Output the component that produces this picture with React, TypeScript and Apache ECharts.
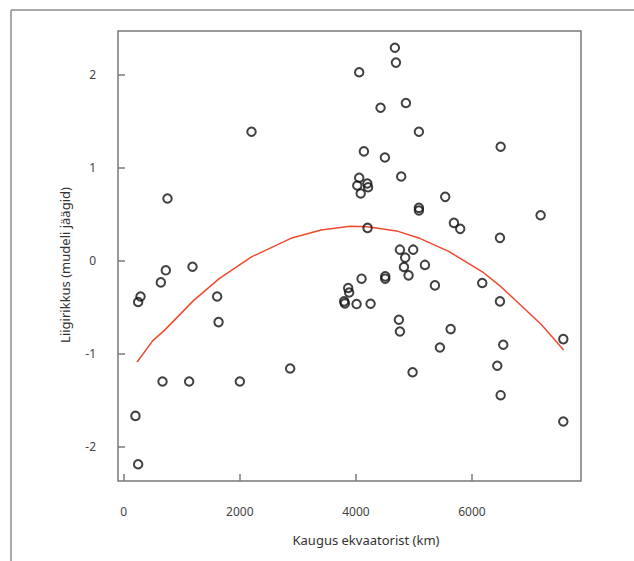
import React, { useEffect, useRef } from "react";
import * as echarts from "echarts";

// Scatter points: distance from equator (km) and species richness residuals
const pointX: number[] = [
  753, 724, 638, 1184, 288, 247, 1609, 1633, 667, 1126, 2000, 2867, 201, 247, 2201,
  4672, 4690, 4057, 4862, 4425, 5086, 4138, 4500, 4781, 4057, 4197, 4024, 4083, 4210,
  5540, 5086, 5086, 5690, 5798, 4201, 4759, 4988, 4850, 4828, 5190, 4908, 4506, 4506,
  4098, 5362, 3867, 3884, 3798, 3810, 4012, 4253, 4741, 4759, 5633, 5448, 4977,
  6495, 7184, 6483, 6178, 6483, 6540, 6437, 6495, 7575, 7575,
];
const pointY: number[] = [
  0.668, -0.104, -0.234, -0.065, -0.385, -0.445, -0.385, -0.661, -1.3, -1.3, -1.3, -1.16, -1.67, -2.19, 1.387,
  2.29, 2.13, 2.026, 1.695, 1.645, 1.387, 1.175, 1.11, 0.905, 0.891, 0.83, 0.808, 0.722, 0.79,
  0.686, 0.568, 0.539, 0.406, 0.342, 0.352, 0.118, 0.118, 0.032, -0.068, -0.046, -0.158, -0.169, -0.194,
  -0.194, -0.266, -0.294, -0.342, -0.438, -0.46, -0.467, -0.463, -0.636, -0.762, -0.736, -0.934, -1.2,
  1.225, 0.488, 0.245, -0.24, -0.438, -0.905, -1.13, -1.447, -0.844, -1.73,
];

// Fitted curve vertices
const curveX: number[] = [230, 500, 700, 1200, 1650, 2200, 2880, 3400, 3900, 4200, 4700, 5100, 5600, 6200, 6500, 7200, 7580];
const curveY: number[] = [-1.09, -0.86, -0.75, -0.43, -0.19, 0.04, 0.24, 0.33, 0.37, 0.365, 0.32, 0.24, 0.1, -0.13, -0.28, -0.69, -0.96];

const xTicks: number[] = [0, 2000, 4000, 6000];
const yTicks: number[] = [-2, -1, 0, 1, 2];

const xTitle = "Kaugus ekvaatorist (km)";
const yTitle = "Liigirikkus (mudeli jäägid)";

export default function App() {
  const ref = useRef<HTMLDivElement>(null);
  useEffect(() => {
    if (!ref.current) return;
    const chart = echarts.init(ref.current, null, { renderer: "svg" });
    const font = "'Noto Sans', 'Open Sans', sans-serif";
    const frameColor = "#7a7a7a";
    chart.setOption({
      animation: false,
      backgroundColor: "#ffffff",
      grid: {
        left: 118,
        top: 31,
        right: 53,
        bottom: 80,
        show: true,
        borderColor: frameColor,
        borderWidth: 1.5,
        backgroundColor: "#ffffff",
      },
      xAxis: {
        type: "value",
        min: -100,
        max: 7880,
        axisLine: { show: false, onZero: false },
        splitLine: { show: false },
        axisTick: {
          show: true,
          inside: true,
          length: 7,
          customValues: xTicks,
          lineStyle: { color: frameColor, width: 1.5 },
        },
        axisLabel: {
          customValues: xTicks,
          margin: 24,
          color: "#444",
          fontFamily: font,
          fontSize: 12,
          formatter: (v: number) => String(v),
        },
      },
      yAxis: {
        type: "value",
        min: -2.37,
        max: 2.47,
        axisLine: { show: false, onZero: false },
        splitLine: { show: false },
        axisTick: {
          show: true,
          inside: true,
          length: 7,
          customValues: yTicks,
          lineStyle: { color: frameColor, width: 1.5 },
        },
        axisLabel: {
          customValues: yTicks,
          margin: 22,
          color: "#444",
          fontFamily: font,
          fontSize: 12,
          formatter: (v: number) => String(v),
        },
      },
      graphic: [
        {
          type: "line",
          shape: { x1: 11, y1: 10, x2: 634, y2: 10 },
          style: { stroke: "#8c8c8c", lineWidth: 1.5 },
        },
        {
          type: "line",
          shape: { x1: 11, y1: 10, x2: 11, y2: 561 },
          style: { stroke: "#8c8c8c", lineWidth: 1.5 },
        },
        {
          type: "text",
          x: 366,
          y: 540,
          style: {
            text: xTitle,
            fontFamily: font,
            fontSize: 13,
            fill: "#333",
            textAlign: "center",
            textVerticalAlign: "middle",
          },
        },
        {
          type: "text",
          x: 65,
          y: 265,
          rotation: Math.PI / 2,
          style: {
            text: yTitle,
            fontFamily: font,
            fontSize: 13,
            fill: "#333",
            textAlign: "center",
            textVerticalAlign: "middle",
          },
        },
      ],
      series: [
        {
          type: "scatter",
          data: pointX.map((x, i) => [x, pointY[i]]),
          symbol: "circle",
          symbolSize: 8.5,
          itemStyle: { color: "rgba(0,0,0,0)", borderColor: "#111", borderWidth: 2 },
          z: 3,
        },
        {
          type: "line",
          data: curveX.map((x, i) => [x, curveY[i]]),
          showSymbol: false,
          symbol: "none",
          lineStyle: { color: "#ee4a2f", width: 1.5 },
          z: 2,
        },
      ],
    });
    return () => chart.dispose();
  }, []);
  return (
    <div
      ref={ref}
      style={{ position: "fixed", left: 0, top: 0, width: 634, height: 561 }}
    />
  );
}
